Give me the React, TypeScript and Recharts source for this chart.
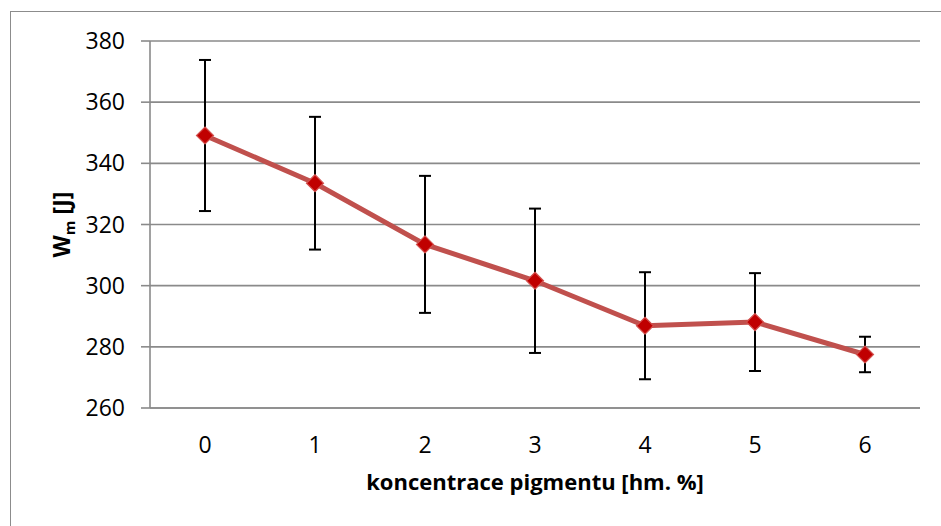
import { CartesianGrid, ErrorBar, Line, LineChart, XAxis, YAxis } from "recharts";

const concentrations = ["0", "1", "2", "3", "4", "5", "6"];
const wmValues = [349.1, 333.5, 313.5, 301.6, 286.9, 288.1, 277.5];
const wmErrors = [24.7, 21.7, 22.4, 23.6, 17.5, 16.0, 5.8];
const yTicks = [260, 280, 300, 320, 340, 360, 380];

const data = concentrations.map((c, i) => ({ c, wm: wmValues[i], err: wmErrors[i] }));

const FONT = "'Open Sans', 'Noto Sans', sans-serif";
const GRID = "#8a8a8a";

interface DotProps { cx?: number; cy?: number }
function Diamond({ cx = 0, cy = 0 }: DotProps) {
  const r = 8.5;
  return (
    <path
      d={`M${cx},${cy - r} L${cx + r},${cy} L${cx},${cy + r} L${cx - r},${cy} Z`}
      fill="#C00000"
      stroke="#D2514E"
      strokeWidth={1.2}
    />
  );
}

interface VB { viewBox?: { x: number; y: number; width: number; height: number } }
function XLabel({ viewBox }: VB) {
  if (!viewBox) return null;
  return (
    <text x={viewBox.x + viewBox.width / 2} y={viewBox.y + 82} textAnchor="middle" fontFamily={FONT} fontSize={22} fontWeight={700} fill="#000">
      koncentrace pigmentu [hm. %]
    </text>
  );
}

function YLabel({ viewBox }: VB) {
  if (!viewBox) return null;
  const cx = 70;
  const cy = viewBox.y + viewBox.height / 2;
  return (
    <text x={cx} y={cy} transform={`rotate(-90 ${cx} ${cy})`} textAnchor="middle" fontFamily={FONT} fontSize={23} fontWeight={700} fill="#000">
      W<tspan fontSize={15} dy={5}>m</tspan>
      <tspan dy={-5}> [J]</tspan>
    </text>
  );
}

export default function App() {
  return (
    <div style={{ position: "absolute", left: 0, top: 0, width: 941, height: 526, background: "#fff" }}>
      <div style={{ position: "absolute", left: 10, top: 11, width: 931, height: 515, borderTop: "1px solid #8c8c8c", borderLeft: "1px solid #8c8c8c" }} />
      <LineChart width={941} height={526} data={data} margin={{ top: 41, right: 21, bottom: 38, left: 0 }} style={{ position: "absolute", left: 0, top: 0 }}>
        <CartesianGrid horizontal vertical={false} stroke={GRID} strokeWidth={1.6} />
        <XAxis
          dataKey="c"
          padding={{ left: 55, right: 55 }}
          height={80}
          axisLine={{ stroke: GRID, strokeWidth: 1.6 }}
          tickLine={false}
          tickSize={9}
          tickMargin={20}
          tick={{ fill: "#000", fontFamily: FONT, fontSize: 23 }}
          label={<XLabel />}
        />
        <YAxis
          width={150}
          domain={[260, 380]}
          ticks={yTicks}
          interval={0}
          axisLine={{ stroke: GRID, strokeWidth: 1.6 }}
          tickLine={{ stroke: GRID, strokeWidth: 1.6 }}
          tickSize={9}
          tickMargin={16}
          tick={{ fill: "#000", fontFamily: FONT, fontSize: 23 }}
          label={<YLabel />}
        />
        <Line
          type="linear"
          dataKey="wm"
          stroke="#C0504D"
          strokeWidth={5}
          dot={<Diamond />}
          activeDot={false}
          isAnimationActive={false}
        >
          <ErrorBar dataKey="err" direction="y" width={6} stroke="#000" strokeWidth={2} />
        </Line>
      </LineChart>
    </div>
  );
}
